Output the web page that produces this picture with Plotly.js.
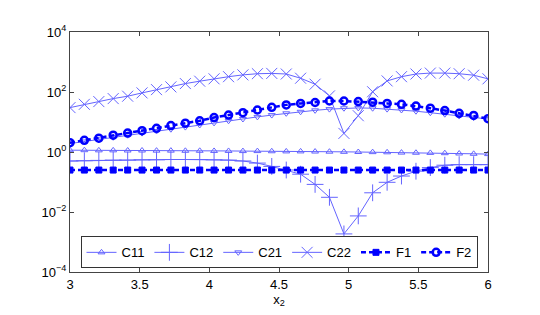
<!DOCTYPE html>
<html>
<head>
<meta charset="utf-8">
<script src="https://cdn.plot.ly/plotly-3.0.1.min.js"></script>
<style>html,body{margin:0;padding:0;background:#fff;}#chart{width:540px;height:315px;}</style>
</head>
<body>
<div id="chart"></div>
<script>
var x2 = [3, 3.103, 3.207, 3.31, 3.414, 3.517, 3.621, 3.724, 3.828, 3.931,
          4.034, 4.138, 4.241, 4.345, 4.448, 4.552, 4.655, 4.759, 4.862, 4.966,
          5.069, 5.172, 5.276, 5.379, 5.483, 5.586, 5.69, 5.793, 5.897, 6];

var C11 = [1.148, 1.148, 1.135, 1.135, 1.122, 1.122, 1.109, 1.109, 1.096, 1.096,
           1.084, 1.084, 1.072, 1.072, 1.059, 1.047, 1.047, 1.035, 1.023, 1.012,
           1.0, 0.989, 0.977, 0.955, 0.944, 0.933, 0.912, 0.891, 0.871, 0.851];

var C12 = [0.501, 0.513, 0.525, 0.537, 0.537, 0.550, 0.550, 0.562, 0.562, 0.562,
           0.550, 0.537, 0.501, 0.427, 0.331, 0.251, 0.182, 0.0832, 0.0309, 0.00186,
           0.00741, 0.0437, 0.0977, 0.158, 0.229, 0.302, 0.363, 0.380, 0.380, 0.380];

var C21 = [1.91, 2.24, 2.63, 3.09, 3.63, 4.27, 5.01, 5.75, 6.76, 7.94,
           9.33, 11.0, 12.6, 14.8, 17.0, 19.5, 21.9, 24.5, 26.9, 28.8,
           29.5, 28.8, 26.9, 25.1, 22.9, 20.4, 18.2, 15.8, 14.1, 12.6];

var C22 = [30.2, 38.9, 47.9, 60.3, 72.4, 93.3, 120, 148, 191, 229,
           275, 324, 372, 407, 417, 398, 288, 182, 74.1, 4.17,
           16.2, 102, 234, 324, 398, 427, 427, 407, 363, 275];

var F1 = [0.25, 0.25, 0.25, 0.25, 0.25, 0.25, 0.25, 0.25, 0.25, 0.25,
          0.25, 0.25, 0.25, 0.25, 0.25, 0.25, 0.25, 0.25, 0.25, 0.25,
          0.25, 0.25, 0.25, 0.25, 0.25, 0.25, 0.25, 0.25, 0.25, 0.25];

var F2 = [2.04, 2.45, 2.88, 3.63, 4.27, 5.13, 6.17, 7.59, 9.12, 11.0,
          14.1, 17.0, 20.4, 25.1, 30.9, 37.2, 41.7, 44.7, 50.1, 50.1,
          47.9, 45.7, 41.7, 38.9, 33.9, 28.8, 24.0, 19.5, 16.6, 12.9];

var xTickVals = [3, 3.5, 4, 4.5, 5, 5.5, 6];
var xTickText = ['3', '3.5', '4', '4.5', '5', '5.5', '6'];
var yTickVals = [1e-4, 1e-2, 1, 1e2, 1e4];
var yTickText = ['10<sup>\u22124</sup>', '10<sup>\u22122</sup>', '10<sup>0</sup>', '10<sup>2</sup>', '10<sup>4</sup>'];

var thin = 'rgb(100,100,255)';
var bold = 'rgb(0,0,255)';

function thinTrace(name, y, symbol, size) {
  return {
    x: x2, y: y, name: name, type: 'scatter', mode: 'lines+markers',
    line: {color: thin, width: 1},
    marker: {symbol: symbol, size: size, color: thin, line: {color: thin, width: 1}}
  };
}

var traces = [
  thinTrace('C11', C11, 'triangle-up-open', 6),
  thinTrace('C12', C12, 'cross-thin-open', 12),
  thinTrace('C21', C21, 'triangle-down-open', 6),
  thinTrace('C22', C22, 'x-thin-open', 11),
  {
    x: x2, y: F1, name: 'F1', type: 'scatter', mode: 'lines+markers',
    line: {color: bold, width: 2.5, dash: '5px,3px'},
    marker: {symbol: 'square', size: 6, color: bold, line: {color: bold, width: 1}}
  },
  {
    x: x2, y: F2, name: 'F2', type: 'scatter', mode: 'lines+markers',
    line: {color: bold, width: 2.5, dash: '5px,3px'},
    marker: {symbol: 'circle-open', size: 7, color: bold, line: {color: bold, width: 2.5}}
  }
];

var fontFam = 'Liberation Sans, Arial, Helvetica, sans-serif';

var layout = {
  width: 540, height: 315,
  margin: {l: 70, r: 52, t: 32, b: 43, pad: 0},
  paper_bgcolor: '#fff', plot_bgcolor: '#fff',
  font: {family: fontFam, size: 13, color: '#000'},
  showlegend: true,
  legend: {
    orientation: 'h', x: 0.5, xanchor: 'center', y: 0.015, yanchor: 'bottom',
    bgcolor: '#fff', bordercolor: '#333', borderwidth: 1,
    font: {family: fontFam, size: 13, color: '#000'},
    itemwidth: 30, traceorder: 'normal'
  },
  xaxis: {
    range: [3, 6], type: 'linear',
    tickvals: xTickVals, ticktext: xTickText,
    ticks: 'inside', ticklen: 4, tickcolor: '#444', tickwidth: 1,
    showline: true, linecolor: '#444', linewidth: 1, mirror: 'ticks',
    showgrid: false, zeroline: false,
    tickfont: {family: fontFam, size: 13, color: '#000'},
    title: {text: 'x<sub>2</sub>', font: {family: fontFam, size: 13, color: '#000'}, standoff: 2}
  },
  yaxis: {
    type: 'log', range: [-4, 4],
    tickvals: yTickVals, ticktext: yTickText,
    ticks: 'inside', ticklen: 4, tickcolor: '#444', tickwidth: 1,
    showline: true, linecolor: '#444', linewidth: 1, mirror: 'ticks',
    showgrid: false, zeroline: false,
    tickfont: {family: fontFam, size: 13, color: '#000'}
  }
};

Plotly.newPlot('chart', traces, layout, {displayModeBar: false, staticPlot: true});
</script>
</body>
</html>
